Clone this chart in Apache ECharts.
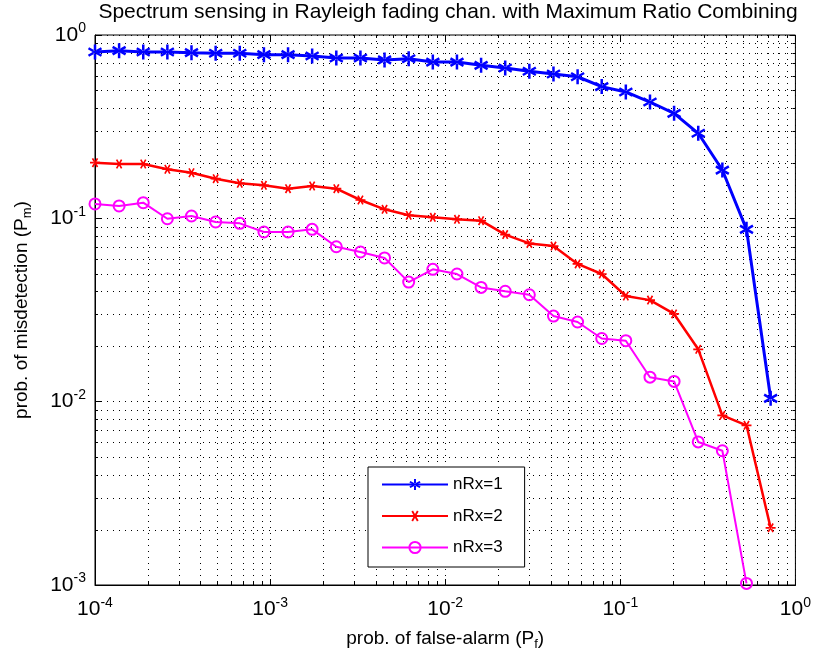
<!DOCTYPE html>
<html><head><meta charset="utf-8">
<script src="https://cdn.jsdelivr.net/npm/echarts@6/dist/echarts.min.js"></script>
<style>html,body{margin:0;padding:0;background:#fff}#c{width:814px;height:660px}</style>
</head><body><div id="c"></div>
<script>
// Probability of false alarm (x) shared by all curves
const pf = [1.0e-4,1.373e-4,1.886e-4,2.590e-4,3.557e-4,4.887e-4,6.711e-4,9.218e-4,1.266e-3,1.738e-3,
  2.388e-3,3.280e-3,4.504e-3,6.186e-3,8.496e-3,1.167e-2,1.603e-2,2.201e-2,3.023e-2,4.152e-2,
  5.702e-2,7.830e-2,0.1075,0.1477,0.2028,0.2786,0.3826,0.5255,0.7217];
// Probability of misdetection for each number of receive antennas
const pm1 = [0.808,0.821,0.808,0.808,0.801,0.795,0.795,0.781,0.781,0.768,
  0.749,0.749,0.731,0.742,0.712,0.712,0.683,0.661,0.634,0.613,
  0.592,0.523,0.489,0.431,0.374,0.291,0.1834,0.0871,0.01043];
const pm2 = [0.2011,0.1979,0.1979,0.1852,0.1773,0.1645,0.1553,0.1514,0.1451,0.1501,
  0.1451,0.1259,0.1120,0.1039,0.1013,0.0988,0.0971,0.0815,0.0730,0.0706,
  0.0564,0.0497,0.0377,0.0358,0.0301,0.0193,0.00842,0.00743,0.00205];
const pm3 = [0.1198,0.1168,0.1217,0.0995,0.1030,0.0955,0.0939,0.0842,0.0842,0.0871,
  0.0700,0.0655,0.0608,0.0449,0.0527,0.0497,0.0420,0.0400,0.0383,0.0293,
  0.0272,0.0221,0.0215,0.0136,0.0129,0.00603,0.0054,0.00102];
const seriesNames = ['nRx=1','nRx=2','nRx=3'];
const titleText = 'Spectrum sensing in Rayleigh fading chan. with Maximum Ratio Combining';
const xDecades = [-4,-3,-2,-1];
const yDecades = [-3,-2,-1];

const pair = (xs, ys) => ys.map((v, i) => [xs[i], v]);
const minorData = [];
xDecades.forEach(d => { for (let m = 2; m <= 9; m++) minorData.push([m * Math.pow(10, d), 0.01, 0]); });
yDecades.forEach(d => { for (let m = 2; m <= 9; m++) minorData.push([0.01, m * Math.pow(10, d), 1]); });

const FONT = "'Liberation Sans',Arial,sans-serif";
const expFmt = v => { const e = Math.round(Math.log10(v)); return '{b|10}{e|' + (e < 0 ? '-' + (-e) : e) + '}'; };
const labelRich = {
  b: {fontSize: 21, fontFamily: FONT, color: '#000'},
  e: {fontSize: 14, fontFamily: FONT, color: '#000', padding: [0, 0, 13, 0]}
};
const star = 'path://M-1,-6L1,-6L1,6L-1,6Z M4.696,3.866L5.696,2.134L-4.696,-3.866L-5.696,-2.134Z M-5.696,2.134L-4.696,3.866L5.696,-2.134L4.696,-3.866Z';
const nameRich = {a: {fontSize: 19, fontFamily: FONT, color: '#000'}, s: {fontSize: 13, fontFamily: FONT, color: '#000', padding: [11, 0, 0, 0]}};

const dotted = {color: '#000', width: 1, type: [1, 5]};
const chart = echarts.init(document.getElementById('c'), null, {renderer: 'canvas'});
chart.setOption({
  animation: false,
  backgroundColor: '#fff',
  graphic: [{type: 'text', x: 448, y: 12, style: {text: titleText, textAlign: 'center', textVerticalAlign: 'middle', fontSize: 21, fontFamily: FONT, fill: '#000'}}],
  grid: {left: 95, right: 14, top: 35, bottom: 75, show: true, borderColor: '#000', borderWidth: 1, backgroundColor: '#fff'},
  legend: {
    orient: 'vertical', left: 368, top: 467,
    data: seriesNames,
    itemWidth: 66, itemHeight: 14, itemGap: 14.5,
    padding: [9, 22, 11, 13],
    borderColor: '#000', borderWidth: 1, backgroundColor: '#fff',
    textStyle: {fontSize: 17, lineHeight: 14, fontFamily: FONT, color: '#000'}
  },
  xAxis: [{
    type: 'log', logBase: 10, min: 1e-4, max: 1,
    name: '{a|prob. of false-alarm (P}{s|f}{a|)}', nameLocation: 'middle', nameGap: 42,
    nameTextStyle: {rich: nameRich},
    axisLine: {show: true, lineStyle: {color: '#000', width: 1}},
    axisTick: {show: true, inside: true, length: 6, lineStyle: {color: '#000'}},
    axisLabel: {formatter: expFmt, rich: labelRich, margin: 11},
    splitLine: {show: true, lineStyle: dotted}
  }, {
    type: 'log', logBase: 10, min: 1e-4, max: 1, position: 'top',
    axisLine: {show: false}, axisTick: {show: true, inside: true, length: 6, lineStyle: {color: '#000'}},
    axisLabel: {show: false}, splitLine: {show: false}
  }],
  yAxis: [{
    type: 'log', logBase: 10, min: 1e-3, max: 1,
    name: '{a|prob. of misdetection (P}{s|m}{a|)}', nameLocation: 'middle', nameGap: 61,
    nameTextStyle: {rich: nameRich},
    axisLine: {show: true, lineStyle: {color: '#000', width: 1}},
    axisTick: {show: true, inside: true, length: 6, lineStyle: {color: '#000'}},
    axisLabel: {formatter: expFmt, rich: labelRich, margin: 9},
    splitLine: {show: true, lineStyle: dotted}
  }, {
    type: 'log', logBase: 10, min: 1e-3, max: 1, position: 'right',
    axisLine: {show: false}, axisTick: {show: true, inside: true, length: 6, lineStyle: {color: '#000'}},
    axisLabel: {show: false}, splitLine: {show: false}
  }],
  series: [{
    type: 'custom', name: 'minorGrid', silent: true, z: 1, clip: false,
    data: minorData,
    encode: {x: 0, y: 1},
    renderItem: (params, api) => {
      const cs = params.coordSys;
      const kind = api.value(2);
      const p = api.coord([api.value(0), api.value(1)]);
      const ls = {stroke: '#000', lineWidth: 1, lineDash: [1, 5]};
      const ts = {stroke: '#000', lineWidth: 1};
      if (kind === 0) {
        const x = Math.round(p[0]) + 0.5;
        const y0 = cs.y, y1 = cs.y + cs.height;
        return {type: 'group', children: [
          {type: 'line', shape: {x1: x, y1: y0, x2: x, y2: y1}, style: ls},
          {type: 'line', shape: {x1: x, y1: y1, x2: x, y2: y1 - 3}, style: ts},
          {type: 'line', shape: {x1: x, y1: y0, x2: x, y2: y0 + 3}, style: ts}
        ]};
      } else {
        const y = Math.round(p[1]) + 0.5;
        const x0 = cs.x, x1 = cs.x + cs.width;
        return {type: 'group', children: [
          {type: 'line', shape: {x1: x0, y1: y, x2: x1, y2: y}, style: ls},
          {type: 'line', shape: {x1: x0, y1: y, x2: x0 + 3, y2: y}, style: ts},
          {type: 'line', shape: {x1: x1, y1: y, x2: x1 - 3, y2: y}, style: ts}
        ]};
      }
    }
  }, {
    type: 'line', name: seriesNames[0], data: pair(pf, pm1), z: 5,
    symbol: star, symbolSize: 15, symbolKeepAspect: true,
    lineStyle: {color: '#0000ff', width: 3}, itemStyle: {color: '#0000ff'}
  }, {
    type: 'line', name: seriesNames[1], data: pair(pf, pm2), z: 4,
    symbol: star, symbolSize: 10, symbolKeepAspect: true, symbolRotate: 90,
    lineStyle: {color: '#ff0000', width: 2.5}, itemStyle: {color: '#ff0000'}
  }, {
    type: 'line', name: seriesNames[2], data: pair(pf, pm3), z: 3,
    symbol: 'circle', symbolSize: 11,
    lineStyle: {color: '#ff00ff', width: 2}, itemStyle: {color: 'rgba(0,0,0,0)', borderColor: '#ff00ff', borderWidth: 2}
  }]
});
</script></body></html>
